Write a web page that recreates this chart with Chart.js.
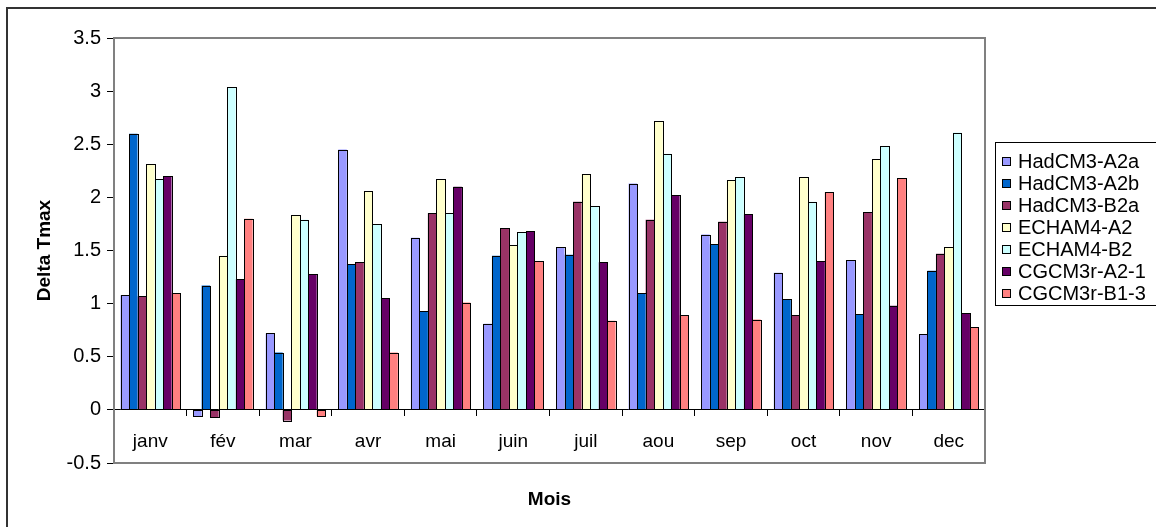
<!DOCTYPE html>
<html>
<head>
<meta charset="utf-8">
<script src="https://cdn.jsdelivr.net/npm/chart.js@4.4.0/dist/chart.umd.min.js"></script>
<style>
  html, body { margin: 0; padding: 0; background: #fff; }
</style>
</head>
<body>
<canvas id="deltaChart" width="1156" height="527"></canvas>
<script>
// Data
const months = ['janv', 'fév', 'mar', 'avr', 'mai', 'juin', 'juil', 'aou', 'sep', 'oct', 'nov', 'dec'];
const hadA2a = [1.08, -0.06, 0.72, 2.45, 1.62, 0.81, 1.53, 2.13, 1.65, 1.29, 1.41, 0.71];
const hadA2b = [2.60, 1.17, 0.54, 1.37, 0.93, 1.45, 1.46, 1.10, 1.56, 1.04, 0.90, 1.31];
const hadB2a = [1.07, -0.07, -0.10, 1.39, 1.85, 1.71, 1.96, 1.79, 1.77, 0.89, 1.86, 1.47];
const echamA2 = [2.31, 1.45, 1.83, 2.06, 2.17, 1.55, 2.22, 2.72, 2.16, 2.19, 2.36, 1.53];
const echamB2 = [2.17, 3.04, 1.79, 1.75, 1.85, 1.67, 1.92, 2.41, 2.19, 1.96, 2.48, 2.61];
const cgcmA2 = [2.20, 1.23, 1.28, 1.05, 2.10, 1.68, 1.39, 2.02, 1.84, 1.40, 0.98, 0.91];
const cgcmB1 = [1.10, 1.80, -0.06, 0.54, 1.01, 1.40, 0.84, 0.89, 0.85, 2.05, 2.18, 0.78];
const yTicks = [-0.5, 0, 0.5, 1, 1.5, 2, 2.5, 3, 3.5];

Chart.defaults.font.family = "'Liberation Sans', Arial, sans-serif";
Chart.defaults.color = '#000';

function series(label, data, color) {
  return {
    label: label,
    data: data,
    backgroundColor: color,
    borderWidth: 0
  };
}

// Frame around the whole chart, plot area border, crisp bar outlines, x title and legend
const decorations = {
  id: 'decorations',
  beforeDatasetsDraw(chart) {
    const ctx = chart.ctx;
    const a = chart.chartArea;
    ctx.save();
    ctx.strokeStyle = '#333';
    ctx.lineWidth = 2;
    ctx.strokeRect(7, 8, 1300, 700);
    ctx.strokeStyle = '#808080';
    ctx.lineWidth = 2;
    ctx.strokeRect(a.left, a.top, a.right - a.left, a.bottom - a.top);
    ctx.restore();
  },
  afterDatasetsDraw(chart) {
    const ctx = chart.ctx;
    ctx.save();
    ctx.strokeStyle = '#000';
    ctx.lineWidth = 1;
    chart.data.datasets.forEach((ds, i) => {
      chart.getDatasetMeta(i).data.forEach(bar => {
        const l = Math.round(bar.x - bar.width / 2) + 0.5;
        const r = Math.round(bar.x + bar.width / 2) + 0.5;
        const t = Math.round(Math.min(bar.y, bar.base)) + 0.5;
        const b = Math.round(Math.max(bar.y, bar.base)) + 0.5;
        ctx.strokeRect(l, t, r - l, b - t);
      });
    });
    ctx.restore();
  },
  afterDraw(chart) {
    const ctx = chart.ctx;
    const a = chart.chartArea;
    ctx.save();
    ctx.fillStyle = '#000';
    ctx.font = "bold 19px 'Liberation Sans', Arial, sans-serif";
    ctx.textAlign = 'center';
    ctx.textBaseline = 'middle';
    ctx.fillText('Mois', (a.left + a.right) / 2, 500);

    // legend
    const lx = 995, ly = 142;
    ctx.fillStyle = '#fff';
    ctx.fillRect(lx, ly, 300, 163);
    ctx.strokeStyle = '#000';
    ctx.lineWidth = 1;
    ctx.strokeRect(lx + 0.5, ly + 0.5, 300, 163);
    ctx.font = "20px 'Liberation Sans', Arial, sans-serif";
    ctx.textAlign = 'left';
    chart.data.datasets.forEach((ds, i) => {
      const cy = 161 + i * 22;
      ctx.fillStyle = ds.backgroundColor;
      ctx.fillRect(lx + 7, cy - 4, 9, 9);
      ctx.strokeStyle = '#000';
      ctx.strokeRect(lx + 7.5, cy - 3.5, 8, 8);
      ctx.fillStyle = '#000';
      ctx.fillText(ds.label, lx + 23, cy + 1);
    });
    ctx.restore();
  }
};

new Chart(document.getElementById('deltaChart'), {
  type: 'bar',
  data: {
    labels: months,
    datasets: [
      series('HadCM3-A2a', hadA2a, '#9999FF'),
      series('HadCM3-A2b', hadA2b, '#0066CC'),
      series('HadCM3-B2a', hadB2a, '#993366'),
      series('ECHAM4-A2', echamA2, '#FFFFCC'),
      series('ECHAM4-B2', echamB2, '#CCFFFF'),
      series('CGCM3r-A2-1', cgcmA2, '#660066'),
      series('CGCM3r-B1-3', cgcmB1, '#FF8080')
    ]
  },
  options: {
    responsive: false,
    devicePixelRatio: 1,
    animation: false,
    datasets: {
      bar: {
        categoryPercentage: 0.82,
        barPercentage: 1.0
      }
    },
    layout: {
      padding: { left: 0, top: 38, right: 171, bottom: 64 }
    },
    plugins: {
      legend: { display: false },
      tooltip: { enabled: false }
    },
    scales: {
      x: {
        position: { y: 0 },
        offset: true,
        grid: {
          offset: true,
          drawOnChartArea: false,
          tickLength: 6,
          color: '#000'
        },
        border: { color: '#000', width: 1 },
        ticks: {
          color: '#000',
          font: { size: 19 },
          padding: 14,
          maxRotation: 0,
          autoSkip: false
        }
      },
      y: {
        min: -0.5,
        max: 3.5,
        afterBuildTicks: scale => {
          scale.ticks = yTicks.map(v => ({ value: v }));
        },
        afterFit: scale => {
          scale.width = 114;
        },
        grid: {
          drawOnChartArea: false,
          tickLength: 7,
          color: '#000'
        },
        border: { color: '#000', width: 1 },
        ticks: {
          color: '#000',
          font: { size: 20 },
          padding: 6,
          callback: v => String(v)
        },
        title: {
          display: true,
          text: 'Delta Tmax',
          color: '#000',
          font: { size: 19, weight: 'bold' },
          padding: { top: 33, bottom: 0 }
        }
      }
    }
  },
  plugins: [decorations]
});
</script>
</body>
</html>
